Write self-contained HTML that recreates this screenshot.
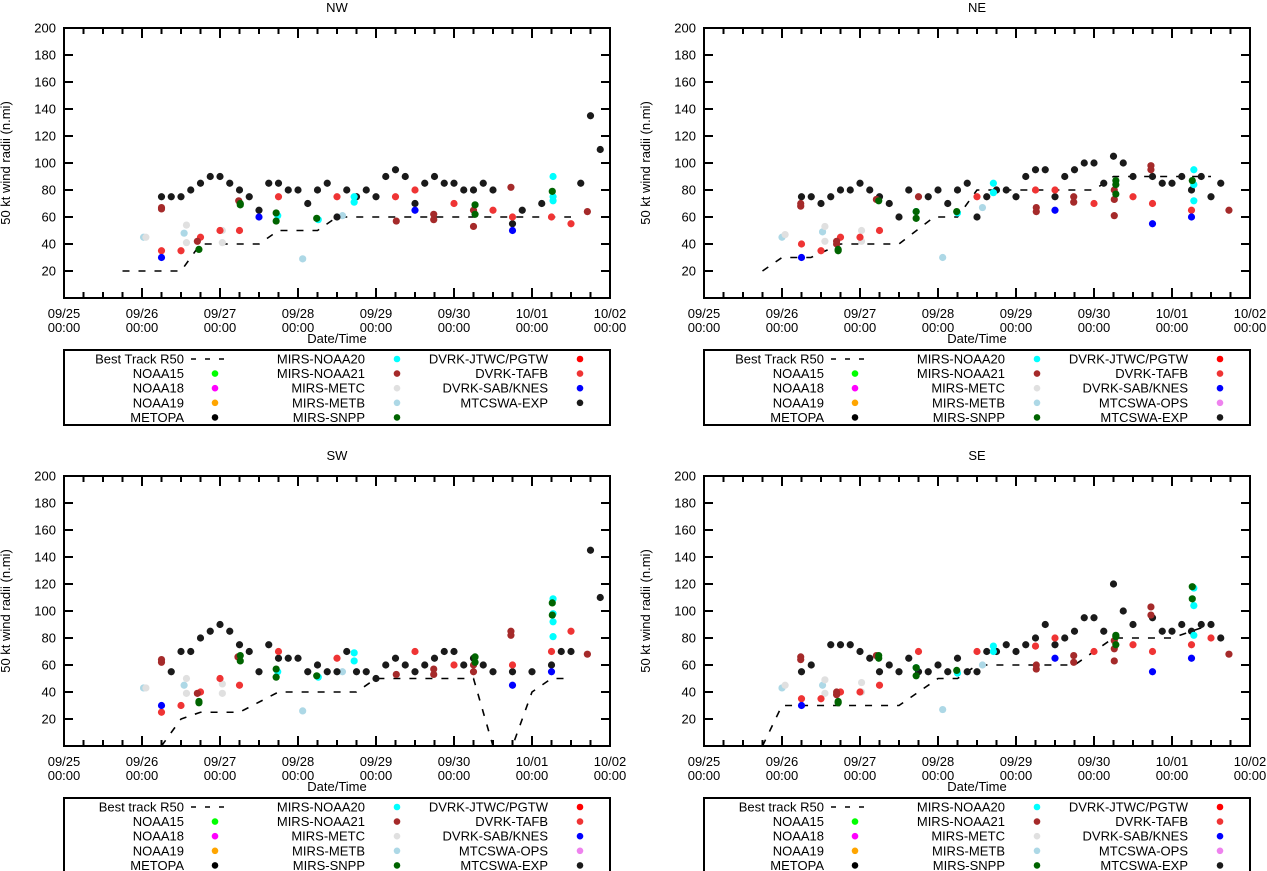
<!DOCTYPE html>
<html><head><meta charset="utf-8"><style>
body{margin:0;background:#fff;}
svg{display:block;font-family:"Liberation Sans",sans-serif;}
</style></head><body>
<svg id="chart" width="1267" height="871" viewBox="0 0 1267 871" xmlns="http://www.w3.org/2000/svg"></svg>
<script>
// ---------- data (t = days since 09/25 00:00, value = n.mi) ----------
const dayLabels = ["09/25","09/26","09/27","09/28","09/29","09/30","10/01","10/02"];
const yTicks = [20,40,60,80,100,120,140,160,180,200];

// NW
const nwBestT = [0.75,1.5,1.75,2.5,2.75,3.25,3.5,6.5];
const nwBestV = [20,20,40,40,50,50,60,60];
const nwExp = [[1.25,75],[1.375,75],[1.5,75],[1.625,80],[1.75,85],[1.875,90],[2,90],[2.125,85],[2.25,80],[2.375,75],[2.5,65],[2.625,85],[2.75,85],[2.875,80],[3,80],[3.125,70],[3.25,80],[3.375,85],[3.5,60],[3.625,80],[3.75,75],[3.875,80],[4,75],[4.125,90],[4.25,95],[4.375,90],[4.5,70],[4.625,85],[4.75,90],[4.875,85],[5,85],[5.125,80],[5.25,80],[5.375,85],[5.5,80],[5.75,55],[5.875,65],[6.125,70],[6.625,85],[6.75,135],[6.875,110]];
const nwTafb = [[1.25,35],[1.5,35],[1.75,45],[2,50],[2.25,50],[2.75,75],[3.5,75],[4.25,75],[4.5,80],[5,70],[5.5,65],[5.75,60],[6.25,60],[6.5,55]];
const nwN21 = [[1.25,66],[1.25,67],[1.71,42],[2.24,72],[4.26,57],[4.74,62],[4.74,58],[5.25,65],[5.25,53],[5.73,82],[6.71,64]];
const nwSnpp = [[1.73,36],[2.26,70],[2.26,69],[2.72,63],[2.72,57],[3.24,59],[5.27,69],[5.27,62],[6.26,79]];
const nwN20 = [[2.74,61],[3.26,58],[3.72,75],[3.72,71],[6.27,90],[6.27,75],[6.27,72]];
const nwMetb = [[1.02,45],[1.54,48],[3.06,29],[3.57,61]];
const nwMetc = [[1.05,45],[1.57,54],[1.57,41],[2.03,50],[2.03,41]];
const nwSab = [[1.25,30],[2.5,60],[4.5,65],[5.75,50]];

// NE
const neBestT = [0.75,1.0,1.37,1.75,2.5,2.95,3.25,3.5,5.0,5.25,6.5];
const neBestV = [20,30,30,40,40,60,60,80,80,90,90];
const neExp = [[1.25,75],[1.375,75],[1.5,70],[1.625,75],[1.75,80],[1.875,80],[2,85],[2.125,80],[2.25,75],[2.375,70],[2.5,60],[2.625,80],[2.875,75],[3,80],[3.125,70],[3.25,80],[3.375,85],[3.5,60],[3.625,75],[3.75,80],[3.875,80],[4,75],[4.125,90],[4.25,95],[4.375,95],[4.5,75],[4.625,90],[4.75,95],[4.875,100],[5,100],[5.125,85],[5.25,105],[5.375,100],[5.5,90],[5.75,90],[5.875,85],[6,85],[6.125,90],[6.25,80],[6.375,90],[6.5,75],[6.625,85]];
const neTafb = [[1.25,40],[1.5,35],[1.75,45],[2,45],[2.25,50],[3.5,75],[4.25,80],[4.5,80],[5,70],[5.5,75],[5.75,70],[6.25,65]];
const neN21 = [[1.24,70],[1.24,68],[1.7,42],[1.7,40],[2.21,73],[2.75,75],[4.26,67],[4.26,64],[4.74,75],[4.74,71],[5.26,80],[5.26,73],[5.26,61],[5.73,98],[5.73,95],[6.73,65]];
const neSnpp = [[1.72,36],[1.72,35],[2.24,72],[2.72,64],[2.72,59],[3.24,64],[5.28,87],[5.28,84],[5.28,77],[6.26,87]];
const neN20 = [[2.72,64],[3.25,63],[3.71,85],[3.71,78],[6.28,95],[6.28,84],[6.28,72]];
const neMetb = [[1.0,45],[1.52,49],[3.06,30],[3.57,67]];
const neMetc = [[1.04,47],[1.55,53],[1.55,42],[2.02,50],[2.02,42]];
const neSab = [[1.25,30],[4.5,65],[5.75,55],[6.25,60]];

// SW
const swBestT = [1.25,1.5,1.75,2.25,2.75,3.75,4.0,5.25,5.5,5.75,6.0,6.25,6.5];
const swBestV = [0,20,25,25,40,40,50,50,0,0,40,50,50];
const swExp = [[1.375,55],[1.5,70],[1.625,70],[1.75,80],[1.875,85],[2,90],[2.125,85],[2.25,75],[2.375,70],[2.5,55],[2.625,75],[2.75,65],[2.875,65],[3,65],[3.125,55],[3.25,60],[3.375,55],[3.5,55],[3.625,70],[3.75,55],[3.875,55],[4,50],[4.125,60],[4.25,65],[4.375,60],[4.5,55],[4.625,60],[4.75,65],[4.875,70],[5,70],[5.125,60],[5.25,65],[5.375,60],[5.5,55],[5.75,55],[6,55],[6.25,60],[6.375,70],[6.5,70],[6.75,145],[6.875,110]];
const swTafb = [[1.25,25],[1.5,30],[1.75,40],[2,50],[2.25,45],[2.75,70],[3.5,65],[4.5,70],[5,60],[5.75,60],[6.25,70],[6.5,85]];
const swN21 = [[1.25,64],[1.25,62],[1.71,39],[2.23,66],[4.26,53],[4.74,57],[4.74,53],[5.25,60],[5.25,55],[5.73,85],[5.73,82],[6.71,68]];
const swSnpp = [[1.73,33],[1.73,32],[2.26,67],[2.26,63],[2.72,57],[2.72,51],[3.24,52],[5.27,66],[5.27,62],[6.26,106],[6.26,97]];
const swN20 = [[2.74,55],[3.26,51],[3.72,69],[3.72,63],[6.27,109],[6.27,98],[6.27,92],[6.27,81]];
const swMetb = [[1.02,43],[1.54,45],[3.06,26],[3.57,55]];
const swMetc = [[1.05,43],[1.57,50],[1.57,39],[2.03,46],[2.03,39]];
const swSab = [[1.25,30],[5.75,45],[6.25,55]];

// SE
const seBestT = [0.75,1.0,1.25,2.5,2.75,3.0,3.25,3.5,4.75,5.0,5.25,6.0,6.25,6.5];
const seBestV = [0,30,30,30,40,50,50,60,60,70,80,80,85,90];
const seExp = [[1.25,55],[1.375,60],[1.625,75],[1.75,75],[1.875,75],[2,70],[2.125,65],[2.25,55],[2.375,60],[2.5,55],[2.625,65],[2.75,55],[2.875,55],[3,60],[3.125,55],[3.25,65],[3.375,55],[3.5,55],[3.625,70],[3.75,70],[3.875,75],[4,70],[4.125,75],[4.25,80],[4.375,90],[4.5,75],[4.625,80],[4.75,85],[4.875,95],[5,95],[5.125,85],[5.25,120],[5.375,100],[5.5,90],[5.75,95],[5.875,85],[6,85],[6.125,90],[6.25,85],[6.375,90],[6.5,90],[6.625,80]];
const seTafb = [[1.25,35],[1.5,35],[1.75,40],[2,40],[2.25,45],[2.75,70],[3.5,70],[4.25,74],[4.5,80],[5,70],[5.5,75],[5.75,70],[6.25,75],[6.5,80]];
const seN21 = [[1.24,66],[1.24,64],[1.7,40],[1.7,38],[2.21,67],[4.26,60],[4.26,57],[4.74,67],[4.74,62],[5.26,78],[5.26,72],[5.26,63],[5.73,103],[5.73,97],[6.73,68]];
const seSnpp = [[1.72,33],[1.72,32],[2.24,67],[2.24,65],[2.72,58],[2.72,52],[3.24,56],[5.28,82],[5.28,81],[5.28,75],[6.26,118],[6.26,109]];
const seN20 = [[2.72,58],[3.25,54],[3.71,74],[3.71,70],[6.28,117],[6.28,104],[6.28,82]];
const seMetb = [[1.0,43],[1.52,45],[3.06,27],[3.57,60]];
const seMetc = [[1.04,45],[1.55,49],[1.55,39],[2.02,47],[2.02,40]];
const seSab = [[1.25,30],[4.5,65],[5.75,55],[6.25,65]];

const COL = {exp:"#1a1a1a", tafb:"#ef3434", n21:"#a52a2a", snpp:"#006400", n20:"#00ffff", metb:"#add8e6", metc:"#e0e0e0", sab:"#0000ff", jtwc:"#ff0000", ops:"#ee82ee", n15:"#00ff00", n18:"#ff00ff", n19:"#ffa500", metopa:"#000000"};

const NS = "http://www.w3.org/2000/svg";
const svg = document.getElementById("chart");
function mk(tag, attrs, parent){
  const e = document.createElementNS(NS, tag);
  for (const k in attrs) e.setAttribute(k, attrs[k]);
  (parent||svg).appendChild(e);
  return e;
}

function panel(name, title, x0, x1, y0, y1, bestT, bestV, series, bestLabel, hasOps){
  const g = mk("g", {});
  
  
  const xs = t => x0 + t * (x1 - x0) / 7;
  const ys = v => y1 - v * (y1 - y0) / 200;
  const clipId = "clip-" + name;
  const cp = mk("clipPath", {id: clipId}, g);
  mk("rect", {x: x0, y: y0, width: x1 - x0, height: y1 - y0}, cp);

  const tt = mk("text", {x: (x0 + x1) / 2, y: y0 - 16, "text-anchor": "middle", "font-size": 13}, g);
  tt.textContent = title;
  
  

  const yt = mk("text", {x: 0, y: 0, "text-anchor": "middle", "font-size": 13, transform: "translate(" + (x0 - 54) + "," + ((y0 + y1) / 2) + ") rotate(-90)"}, g);
  yt.textContent = "50 kt wind radii (n.mi)";
  
  

  yTicks.forEach(v => {
    const y = ys(v);
    mk("line", {x1: x0, x2: x0 + 9, y1: y, y2: y, stroke: "#000", "stroke-width": 2}, g);
    mk("line", {x1: x1, x2: x1 - 9, y1: y, y2: y, stroke: "#000", "stroke-width": 2}, g);
    const lb = mk("text", {x: x0 - 8, y: y + 4.5, "text-anchor": "end", "font-size": 13}, g);
    lb.textContent = v;
    
    
  });
  for (let q = 1; q < 28; q++) {
    const x = xs(q / 4), len = q % 4 === 0 ? 10 : 6;
    mk("line", {x1: x, x2: x, y1: y1, y2: y1 - len, stroke: "#000", "stroke-width": 2}, g);
    mk("line", {x1: x, x2: x, y1: y0, y2: y0 + len, stroke: "#000", "stroke-width": 2}, g);
  }
  dayLabels.forEach((d, i) => {
    const lb = mk("text", {x: xs(i), y: y1 + 20, "text-anchor": "middle", "font-size": 13}, g);
    lb.textContent = d;
    
    
    const lb2 = mk("text", {x: xs(i), y: y1 + 34, "text-anchor": "middle", "font-size": 13}, g);
    lb2.textContent = "00:00";
    
    
  });
  const xt = mk("text", {x: (x0 + x1) / 2, y: y1 + 45, "text-anchor": "middle", "font-size": 13}, g);
  xt.textContent = "Date/Time";
  
  

  const pts = bestT.map((t, i) => xs(t) + "," + ys(bestV[i])).join(" ");
  const bl = mk("polyline", {points: pts, fill: "none", stroke: "#000", "stroke-width": 1.6, "stroke-dasharray": "7,9", "clip-path": "url(#" + clipId + ")"}, g);
  
  

  series.forEach(s => {
    s.data.forEach(p => {
      const c = mk("circle", {cx: xs(p[0]), cy: ys(p[1]), r: 3.6, fill: COL[s.key]}, g);
      
      
    });
  });

  mk("rect", {x: x0, y: y0, width: x1 - x0, height: y1 - y0, fill: "none", stroke: "#000", "stroke-width": 2}, g);

  const ly0 = y1 + 52, ly1 = y1 + 127;
  const lg = mk("g", {}, g);
  
  
  mk("rect", {x: x0, y: ly0, width: x1 - x0, height: ly1 - ly0, fill: "none", stroke: "#000", "stroke-width": 2}, lg);
  const cols = [
    [[bestLabel, null], ["NOAA15", "n15"], ["NOAA18", "n18"], ["NOAA19", "n19"], ["METOPA", "metopa"]],
    [["MIRS-NOAA20", "n20"], ["MIRS-NOAA21", "n21"], ["MIRS-METC", "metc"], ["MIRS-METB", "metb"], ["MIRS-SNPP", "snpp"]],
    hasOps ? [["DVRK-JTWC/PGTW", "jtwc"], ["DVRK-TAFB", "tafb"], ["DVRK-SAB/KNES", "sab"], ["MTCSWA-OPS", "ops"], ["MTCSWA-EXP", "exp"]]
           : [["DVRK-JTWC/PGTW", "jtwc"], ["DVRK-TAFB", "tafb"], ["DVRK-SAB/KNES", "sab"], ["MTCSWA-EXP", "exp"]]
  ];
  const textR = [120, 301, 484], markX = [151, 333, 516];
  cols.forEach((col, ci) => {
    col.forEach((it, ri) => {
      const cy = ly0 + 9 + ri * 14.6;
      const tx = mk("text", {x: x0 + textR[ci], y: cy + 4.5, "text-anchor": "end", "font-size": 13}, lg);
      tx.textContent = it[0];
      
      
      if (it[1]) {
        mk("circle", {cx: x0 + markX[ci], cy: cy, r: 3.3, fill: COL[it[1]]}, lg);
      } else {
        mk("line", {x1: x0 + 127, x2: x0 + 168, y1: cy, y2: cy, stroke: "#000", "stroke-width": 1.6, "stroke-dasharray": "5,9"}, lg);
      }
    });
  });
}

function ser(exp, tafb, n21, snpp, n20, metb, metc, sab){
  return [{key:"metb",data:metb},{key:"metc",data:metc},{key:"exp",data:exp},{key:"tafb",data:tafb},{key:"n21",data:n21},{key:"n20",data:n20},{key:"snpp",data:snpp},{key:"sab",data:sab}];
}
panel("nw", "NW", 64, 610, 28, 298, nwBestT, nwBestV, ser(nwExp, nwTafb, nwN21, nwSnpp, nwN20, nwMetb, nwMetc, nwSab), "Best Track R50", false);
panel("ne", "NE", 704, 1250, 28, 298, neBestT, neBestV, ser(neExp, neTafb, neN21, neSnpp, neN20, neMetb, neMetc, neSab), "Best Track R50", true);
panel("sw", "SW", 64, 610, 476, 746, swBestT, swBestV, ser(swExp, swTafb, swN21, swSnpp, swN20, swMetb, swMetc, swSab), "Best track R50", true);
panel("se", "SE", 704, 1250, 476, 746, seBestT, seBestV, ser(seExp, seTafb, seN21, seSnpp, seN20, seMetb, seMetc, seSab), "Best track R50", true);
</script>
</body></html>
